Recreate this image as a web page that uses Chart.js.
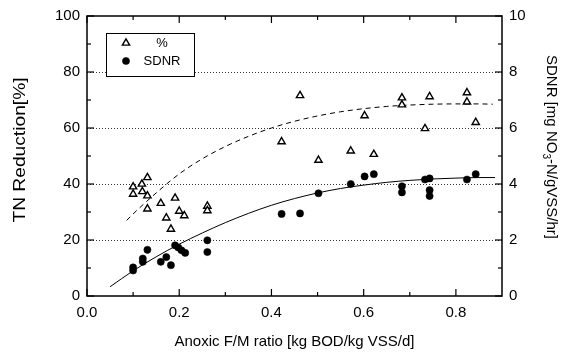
<!DOCTYPE html>
<html>
<head>
<meta charset="utf-8">
<script src="https://cdn.jsdelivr.net/npm/chart.js@4/dist/chart.umd.min.js"></script>
<style>
  html, body { margin: 0; padding: 0; background: #fff; }
  #wrap { width: 578px; height: 355px; }
</style>
</head>
<body>
<div id="wrap"><canvas id="c" width="578" height="355"></canvas></div>
<script>
// ---- data ----
const pctX = [0.10, 0.10, 0.119, 0.12, 0.131, 0.131, 0.131, 0.16, 0.172, 0.182, 0.191, 0.20, 0.211, 0.261, 0.261,
              0.422, 0.462, 0.502, 0.572, 0.602, 0.622, 0.683, 0.683, 0.733, 0.743, 0.824, 0.824, 0.843];
const pctY = [39.0, 36.4, 40.0, 37.3, 42.3, 35.8, 31.1, 33.1, 27.9, 23.9, 35.0, 30.3, 28.7, 32.1, 30.5,
              55.1, 71.6, 48.5, 51.8, 64.4, 50.6, 70.8, 68.3, 59.8, 71.2, 72.6, 69.3, 62.0];

const sdnrX = [0.10, 0.10, 0.121, 0.121, 0.131, 0.16, 0.172, 0.182, 0.191, 0.198, 0.205, 0.213, 0.261, 0.261,
               0.422, 0.462, 0.502, 0.572, 0.602, 0.622, 0.683, 0.683, 0.733, 0.743, 0.743, 0.743, 0.824, 0.843];
const sdnrY = [1.02, 0.91, 1.34, 1.22, 1.65, 1.22, 1.39, 1.10, 1.81, 1.73, 1.63, 1.54, 1.99, 1.57,
               2.93, 2.95, 3.67, 4.00, 4.27, 4.35, 3.92, 3.70, 4.16, 4.20, 3.78, 3.57, 4.16, 4.35];

// fitted curves
const pctFitX = [0.086, 0.10, 0.15, 0.20, 0.25, 0.30, 0.35, 0.40, 0.45, 0.50, 0.55, 0.60, 0.65, 0.70, 0.75, 0.80, 0.85, 0.88];
const pctFitY = [27.0, 29.3, 36.8, 43.6, 49.0, 53.4, 57.0, 60.0, 62.4, 64.3, 65.8, 66.9, 67.7, 68.2, 68.5, 68.6, 68.6, 68.5];

const sdnrFitX = [0.05, 0.10, 0.15, 0.20, 0.25, 0.30, 0.35, 0.40, 0.45, 0.50, 0.55, 0.60, 0.65, 0.70, 0.75, 0.80, 0.85, 0.885];
const sdnrFitY = [0.33, 0.90, 1.40, 1.85, 2.25, 2.62, 2.95, 3.24, 3.48, 3.68, 3.84, 3.96, 4.06, 4.13, 4.18, 4.21, 4.23, 4.23];

// tick values
const xTicks = [0, 0.2, 0.4, 0.6, 0.8];
const xMinor = [0.1, 0.3, 0.5, 0.7];
const yTicks = [0, 20, 40, 60, 80, 100];
const yMinor = [10, 30, 50, 70, 90];
const yGrid = [20, 40, 60, 80];
const y1Ticks = [0, 2, 4, 6, 8, 10];
const y1Minor = [1, 3, 5, 7, 9];

const FONT = "'Liberation Sans', Arial, Helvetica, sans-serif";
const pts = (xs, ys) => xs.map((x, i) => ({ x: x, y: ys[i] }));

const framePlugin = {
  id: 'frame',
  beforeDatasetsDraw(chart) {
    const ctx = chart.ctx, ca = chart.chartArea;
    const sx = chart.scales.x, sy = chart.scales.y, sy1 = chart.scales.y1;
    ctx.save();
    // dotted grid lines
    ctx.strokeStyle = '#333';
    ctx.lineWidth = 1;
    ctx.setLineDash([1, 2]);
    yGrid.forEach(v => {
      const p = Math.round(sy.getPixelForValue(v)) + 0.5;
      ctx.beginPath(); ctx.moveTo(ca.left, p); ctx.lineTo(ca.right, p); ctx.stroke();
    });
    ctx.setLineDash([]);
    // ticks (inward)
    ctx.strokeStyle = '#000';
    ctx.lineWidth = 1.2;
    const tick = (x1, y1, x2, y2) => { ctx.beginPath(); ctx.moveTo(x1, y1); ctx.lineTo(x2, y2); ctx.stroke(); };
    xTicks.forEach(v => { const p = sx.getPixelForValue(v); tick(p, ca.bottom, p, ca.bottom - 7); tick(p, ca.top, p, ca.top + 7); });
    xMinor.forEach(v => { const p = sx.getPixelForValue(v); tick(p, ca.bottom, p, ca.bottom - 4); tick(p, ca.top, p, ca.top + 4); });
    yTicks.forEach(v => { const p = sy.getPixelForValue(v); tick(ca.left, p, ca.left + 7, p); });
    yMinor.forEach(v => { const p = sy.getPixelForValue(v); tick(ca.left, p, ca.left + 4, p); });
    y1Ticks.forEach(v => { const p = sy1.getPixelForValue(v); tick(ca.right, p, ca.right - 7, p); });
    y1Minor.forEach(v => { const p = sy1.getPixelForValue(v); tick(ca.right, p, ca.right - 4, p); });
    // frame
    ctx.lineWidth = 1.5;
    ctx.strokeRect(ca.left, ca.top, ca.right - ca.left, ca.bottom - ca.top);
    ctx.restore();
  },
  afterDraw(chart) {
    const ctx = chart.ctx;
    ctx.save();
    ctx.fillStyle = '#000';
    // left axis title (stretched along its length like the scan)
    ctx.save();
    ctx.translate(21, 150);
    ctx.rotate(-Math.PI / 2);
    ctx.scale(1.2, 1);
    ctx.font = '16px ' + FONT;
    ctx.textAlign = 'center';
    ctx.textBaseline = 'middle';
    ctx.fillText('TN Reduction[%]', 0, 0);
    ctx.restore();
    // right axis title with subscript
    ctx.save();
    ctx.translate(551, 147);
    ctx.rotate(Math.PI / 2);
    ctx.textBaseline = 'middle';
    ctx.fillStyle = '#000';
    const f = '15px ' + FONT, fs = '10px ' + FONT;
    const a = 'SDNR [mg NO', s = '3', b = '-N/gVSS/hr]';
    ctx.font = f; const wa = ctx.measureText(a).width, wb = ctx.measureText(b).width;
    ctx.font = fs; const ws = ctx.measureText(s).width;
    const x0 = -(wa + ws + wb) / 2;
    ctx.font = f; ctx.textAlign = 'left'; ctx.fillText(a, x0, 0);
    ctx.font = fs; ctx.fillText(s, x0 + wa, 5);
    ctx.font = f; ctx.fillText(b, x0 + wa + ws, 0);
    ctx.restore();
    // legend box
    const lx = 106, ly = 33, lw = 88, lh = 43;
    ctx.fillStyle = '#fff';
    ctx.fillRect(lx, ly, lw, lh);
    ctx.strokeStyle = '#000';
    ctx.lineWidth = 1;
    ctx.strokeRect(lx + 0.5, ly + 0.5, lw, lh);
    const ds = chart.data.datasets;
    const rows = [{ d: ds[0], y: 43 }, { d: ds[1], y: 61 }];
    rows.forEach(r => {
      ctx.fillStyle = r.d.backgroundColor;
      ctx.strokeStyle = r.d.borderColor;
      ctx.lineWidth = r.d.borderWidth;
      Chart.helpers.drawPoint(ctx, {
        pointStyle: r.d.pointStyle, radius: r.d.pointRadius, borderWidth: r.d.borderWidth, rotation: 0
      }, 126, r.y);
      ctx.fillStyle = '#000';
      ctx.font = '13px ' + FONT;
      ctx.textAlign = 'center';
      ctx.textBaseline = 'middle';
      ctx.fillText(r.d.label, 162, r.y + 0.5);
    });
    ctx.restore();
  }
};

new Chart(document.getElementById('c'), {
  type: 'scatter',
  data: {
    datasets: [
      { label: '%', data: pts(pctX, pctY), yAxisID: 'y', pointStyle: 'triangle', pointRadius: 4.2,
        pointHoverRadius: 4.2, backgroundColor: '#fff', borderColor: '#000', borderWidth: 1.4, order: 0 },
      { label: 'SDNR', data: pts(sdnrX, sdnrY), yAxisID: 'y1', pointStyle: 'circle', pointRadius: 3.6,
        pointHoverRadius: 3.6, backgroundColor: '#000', borderColor: '#000', borderWidth: 0.5, order: 1 },
      { label: 'fit %', data: pts(pctFitX, pctFitY), yAxisID: 'y', type: 'line', showLine: true, pointRadius: 0,
        borderColor: '#000', borderWidth: 1, borderDash: [5, 4], fill: false, cubicInterpolationMode: 'monotone', order: 2 },
      { label: 'fit SDNR', data: pts(sdnrFitX, sdnrFitY), yAxisID: 'y1', type: 'line', showLine: true, pointRadius: 0,
        borderColor: '#000', borderWidth: 1, fill: false, cubicInterpolationMode: 'monotone', order: 3 }
    ]
  },
  options: {
    responsive: false,
    animation: false,
    events: [],
    layout: { padding: { top: 14, left: 0, right: 0, bottom: 0 } },
    plugins: { legend: { display: false }, tooltip: { enabled: false } },
    scales: {
      x: {
        type: 'linear', position: 'bottom', min: 0, max: 0.9,
        afterBuildTicks: s => { s.ticks = xTicks.map(v => ({ value: v })); },
        afterFit: s => { s.height = 59; },
        grid: { display: false, drawTicks: false },
        border: { display: false },
        ticks: { color: '#000', padding: 8, maxRotation: 0, font: { family: FONT, size: 15 },
                 callback: v => Number(v).toFixed(1) },
        title: { display: true, text: 'Anoxic F/M ratio [kg BOD/kg VSS/d]', color: '#000',
                 font: { family: FONT, size: 15 }, padding: { top: 0, bottom: 4 } }
      },
      y: {
        type: 'linear', position: 'left', min: 0, max: 100,
        afterBuildTicks: s => { s.ticks = yTicks.map(v => ({ value: v })); },
        afterFit: s => { s.width = 87; },
        grid: { display: false, drawTicks: false },
        border: { display: false },
        ticks: { color: '#000', padding: 7, font: { family: FONT, size: 15 } }
      },
      y1: {
        type: 'linear', position: 'right', min: 0, max: 10,
        afterBuildTicks: s => { s.ticks = y1Ticks.map(v => ({ value: v })); },
        afterFit: s => { s.width = 76; },
        grid: { display: false, drawTicks: false },
        border: { display: false },
        ticks: { color: '#000', padding: 7, font: { family: FONT, size: 15 } }
      }
    }
  },
  plugins: [framePlugin]
});
</script>
</body>
</html>
